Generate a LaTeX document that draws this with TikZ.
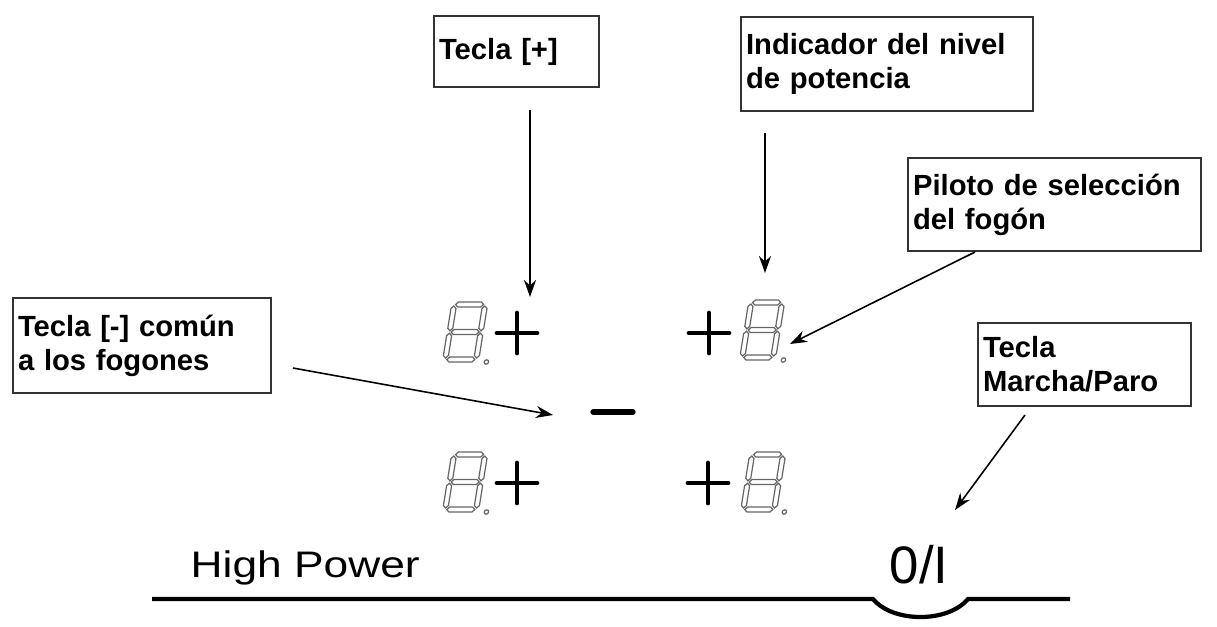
\documentclass[tikz,border=0pt]{standalone}
\usepackage{fontspec}
\setmainfont{Liberation Sans}
\usetikzlibrary{arrows.meta}

\begin{document}
\begin{tikzpicture}[x=0.01cm,y=-0.01cm,>={Stealth[length=0.17cm,width=0.12cm]},
    lbl/.style={draw=black!80,line width=0.6pt,anchor=north west,align=left,
      inner xsep=0.05cm,inner ysep=0pt,font=\fontsize{8.3}{9.6}\selectfont\bfseries},
    seg/.style={draw=black!60,line width=0.35pt},
    key/.style={line width=1.4pt,line cap=round},
    arr/.style={->,line width=0.45pt}]
\useasboundingbox (0,0) rectangle (1217,626);

% boxes with the labels
\node[lbl,text width=1.55cm,minimum height=0.71cm] (plusbox) at (433,15) {Tecla [+]};
\node[lbl,text width=2.82cm,minimum height=0.94cm] (levelbox) at (740,16) {Indicador del nivel\\de potencia};
\node[lbl,text width=2.83cm,minimum height=0.93cm] (pilotbox) at (907,157) {Piloto de selección\\del fogón};
\node[lbl,text width=2.48cm,minimum height=0.95cm] (minusbox) at (12,297) {Tecla [-] común\\a los fogones};
\node[lbl,text width=2.03cm,minimum height=0.83cm] (onoffbox) at (977,322) {Tecla\\Marcha/Paro};

% seven segment displays
\foreach \dx/\dy in {452/302,749/300,452/452,750/452}{
  \begin{scope}[shift={(\dx,\dy)},xslant=0.16]
    \foreach \yc in {2.5,30,57.5}
      \draw[seg] (4,\yc) -- (6.5,\yc-2.5) -- (29.5,\yc-2.5) -- (32,\yc) -- (29.5,\yc+2.5) -- (6.5,\yc+2.5) -- cycle;
    \foreach \xc in {2.5,33.5}
      \foreach \ya/\yb in {4/28.8,31.2/56}
        \draw[seg] (\xc,\ya) -- (\xc+2.5,\ya+2.5) -- (\xc+2.5,\yb-2.5) -- (\xc,\yb) -- (\xc-2.5,\yb-2.5) -- (\xc-2.5,\ya+2.5) -- cycle;
    \draw[seg] (44,60) circle[radius=0.022cm];
  \end{scope}
}

% keys
\draw[key] (497,333) -- (537,333) (517,313) -- (517,353);
\draw[key] (689,333) -- (729,333) (709,313) -- (709,353);
\draw[key] (497,483) -- (537,483) (517,463) -- (517,503);
\draw[key] (688,483) -- (728,483) (708,463) -- (708,503);
\draw[line width=1.5pt,line cap=round] (593,412) -- (633,412);

% panel edge
\draw[line width=1.2pt] (152,599) -- (873,599) .. controls (893,623) and (948,623) .. (968,599) -- (1070,599);
\node[anchor=base west,inner sep=0pt,font=\fontsize{10.5}{12}\selectfont] (hp) at (190,577) {\scalebox{1.2}[1]{High Power}};
\node[anchor=base,inner sep=0pt,font=\fontsize{15}{18}\selectfont] (onoff) at (919,583) {0/I};

% arrows
\coordinate (plustail) at (530,110);
\coordinate (plustip) at (530,297);
\coordinate (leveltail) at (765,133);
\coordinate (leveltip) at (765,273);
\coordinate (pilottail) at (975,252);
\coordinate (pilottip) at (790,344);
\coordinate (minustail) at (293,368);
\coordinate (minustip) at (553,415);
\coordinate (onofftail) at (1025,415);
\coordinate (onofftip) at (955,510);
\draw[arr] (plustail) -- (plustip);
\draw[arr] (leveltail) -- (leveltip);
\draw[arr] (pilottail) -- (pilottip);
\draw[arr] (minustail) -- (minustip);
\draw[arr] (onofftail) -- (onofftip);
\end{tikzpicture}
\end{document}
